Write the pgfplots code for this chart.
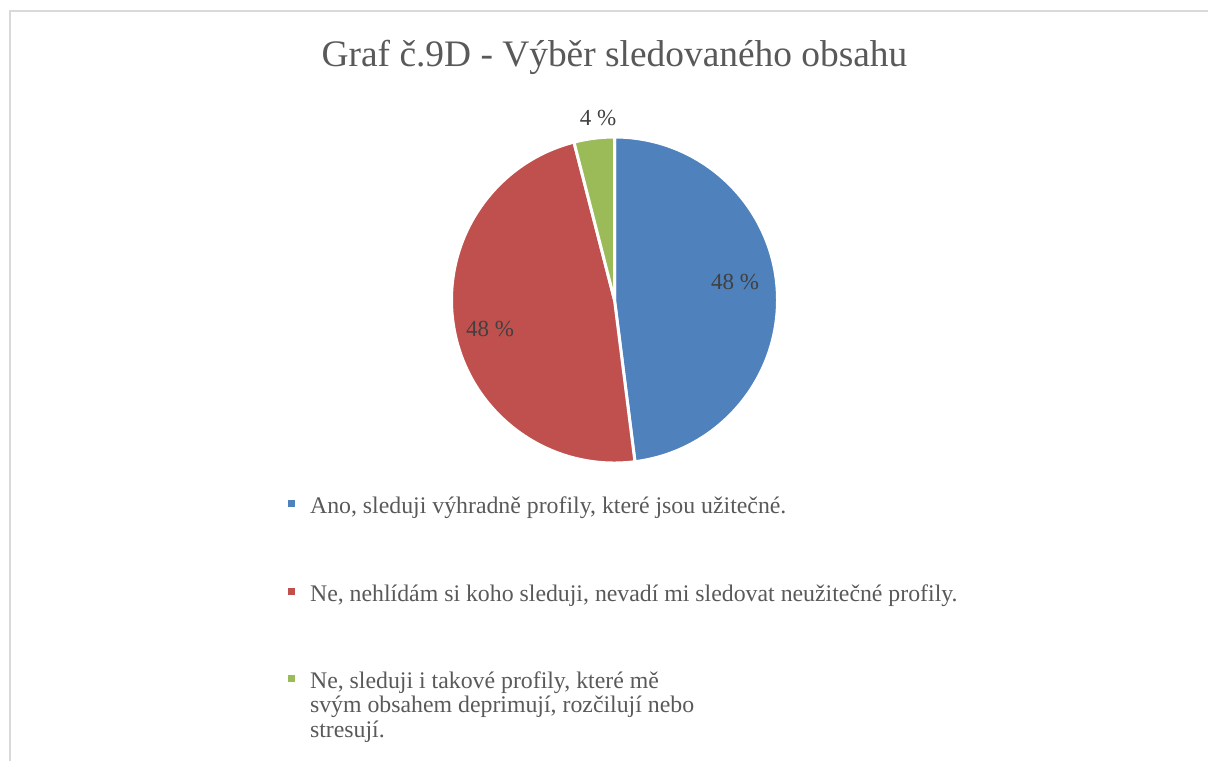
\documentclass[border=0pt]{standalone}
\usepackage{pgfplots}
\pgfplotsset{compat=1.18}
\usepackage{pgfplotstable}
\usepackage{fontspec}
\setmainfont{Liberation Serif}

\definecolor{pieblue}{HTML}{4F81BD}
\definecolor{piered}{HTML}{C0504D}
\definecolor{piegreen}{HTML}{9BBB59}
\definecolor{labelgray}{HTML}{404040}
\definecolor{textgray}{HTML}{595959}
\definecolor{framegray}{HTML}{D9D9D9}

% answers (counts), 25 respondents
\pgfplotstableread{
slice count
0 12
1 12
2 1
}\piedata

\begin{document}%
\pgfplotstablegetelem{0}{count}\of\piedata \edef\cA{\pgfplotsretval}%
\pgfplotstablegetelem{1}{count}\of\piedata \edef\cB{\pgfplotsretval}%
\pgfplotstablegetelem{2}{count}\of\piedata \edef\cC{\pgfplotsretval}%
\pgfmathsetmacro\total{\cA+\cB+\cC}%
% slices start at 12 o'clock and run clockwise
\pgfmathsetmacro\angA{90}%
\pgfmathsetmacro\angB{\angA-360*\cA/\total}%
\pgfmathsetmacro\angC{\angB-360*\cB/\total}%
\pgfmathsetmacro\angD{\angC-360*\cC/\total}%
\begin{tikzpicture}[x=0.5pt,y=0.5pt]
  \coordinate (pc) at (614.5,-300);
  % pie
  \begin{axis}[
    at={(pc)}, anchor=center,
    hide axis, clip=false,
    x=81.5pt, y=81.5pt,
    xmin=-1, xmax=1, ymin=-1, ymax=1,
  ]
    \fill[pieblue, draw=white, line width=1.5pt, line join=round]
      (axis cs:0,0) -- ++(\angA:81.5pt) arc[start angle=\angA, end angle=\angB, radius=81.5pt] -- cycle;
    \fill[piered, draw=white, line width=1.5pt, line join=round]
      (axis cs:0,0) -- ++(\angB:81.5pt) arc[start angle=\angB, end angle=\angC, radius=81.5pt] -- cycle;
    \fill[piegreen, draw=white, line width=1.5pt, line join=round]
      (axis cs:0,0) -- ++(\angC:81.5pt) arc[start angle=\angC, end angle=\angD, radius=81.5pt] -- cycle;
  \end{axis}

  % chart frame (cropped on the right and bottom)
  \begin{scope}
    \clip (0,0) rectangle (1208,-760);
    \draw[framegray, line width=1pt] (10,-800) -- (10,-11) -- (1250,-11);
  \end{scope}
  \path[use as bounding box] (0,0) rectangle (1208,-760);

  \node[anchor=base, text=textgray, font=\fontsize{18.7}{22}\selectfont]
    at (614.5,-66) {Graf č.9D - Výběr sledovaného obsahu};

  % data labels
  \begin{scope}[every node/.style={text=labelgray, font=\fontsize{11.5}{13}\selectfont}]
    \node at (735,-282) {48 \%};
    \node at (490,-329) {48 \%};
    \node at (598,-118) {4 \%};
  \end{scope}

  % legend
  \begin{scope}[every node/.style={text=textgray, anchor=base west, align=left,
      font=\fontsize{11.9}{12.25}\selectfont}]
    \fill[pieblue] (288,-500) rectangle (295,-507);
    \node at (303,-513) {Ano, sleduji výhradně profily, které jsou užitečné.};
    \fill[piered] (288,-588) rectangle (295,-595);
    \node at (303,-601) {Ne, nehlídám si koho sleduji, nevadí mi sledovat neužitečné profily.};
    \fill[piegreen] (288,-675) rectangle (295,-682);
    % base anchor of a multi-line node sits on its last line
    \node at (303,-737) {Ne, sleduji i takové profily, které mě\\svým obsahem deprimují, rozčilují nebo\\stresují.};
  \end{scope}
\end{tikzpicture}
\end{document}
